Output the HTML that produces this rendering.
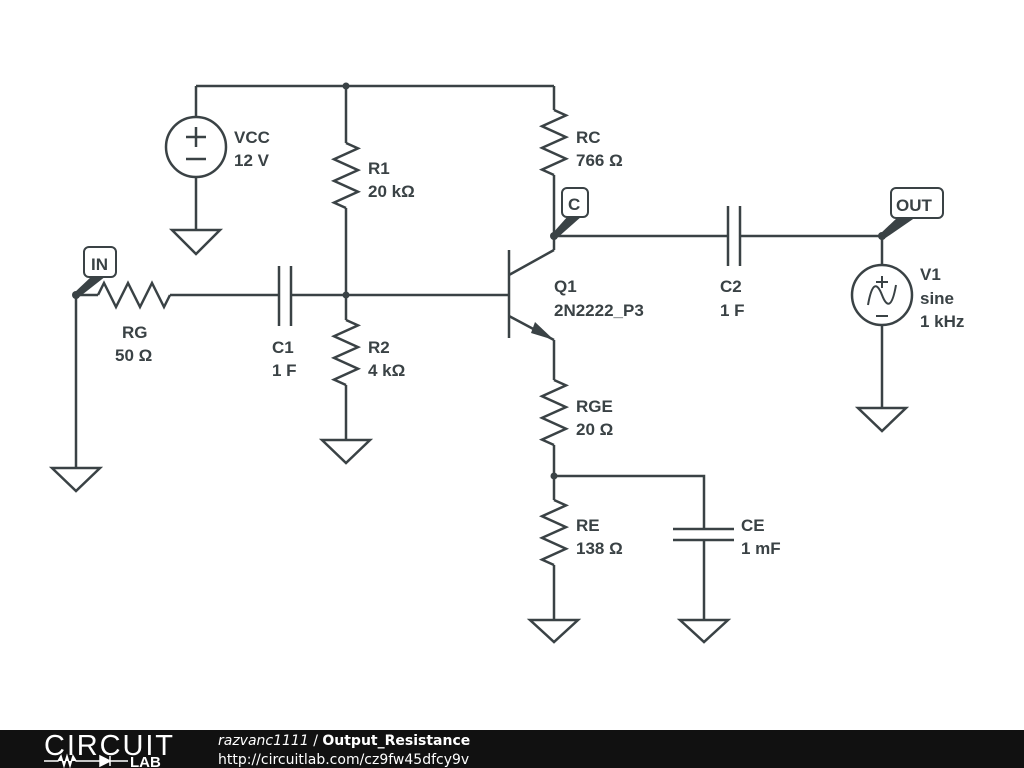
<!DOCTYPE html>
<html><head><meta charset="utf-8"><style>
html,body{margin:0;padding:0;background:#fff;width:1024px;height:768px;overflow:hidden}
svg{display:block}
text{font-family:"Liberation Sans",sans-serif;font-weight:bold;font-size:17px;fill:#3a4245}
</style></head><body>
<svg id="s" width="1024" height="768" viewBox="0 0 1024 768">
<g id="g" stroke="#3a4245" stroke-width="2.5" fill="none" stroke-linecap="butt" stroke-linejoin="miter">
<path d="M196 86H554 M196 86V117 M196 177V230 M346 86V143 M346 208V320 M346 385V440 M554 86V110 M554 175V250 M554 236H728 M740 236H882 M882 236V265 M882 325V408"/>
<path d="M76 295V468 M76 295H98 M170 295H279 M291 295H509"/>
<path d="M509 250V338 M509 275L554 250 M509 316L554 340 M554 340V380 M554 445V500 M554 565V620 M554 476H704V529 M704 540V620"/>
<path d="M279 266V326 M291 266V326 M728 206V266 M740 206V266 M673 529H734 M673 540H734"/>
<circle cx="196" cy="147" r="30"/><path d="M186 137H206 M196 127V147 M186 159H206"/>
<circle cx="882" cy="295" r="30"/><path d="M876 282H888 M882 276V288 M876 316H888" stroke-width="2"/>
<path d="M868 305C872 282 877 282 882 295C887 308 892 308 896 285" stroke-width="2"/>
<path d="M172 230H220L196 254Z M322 440H370L346 463Z M52 468H100L76 491Z M530 620H578L554 642Z M680 620H728L704 642Z M858 408H906L882 431Z"/>
</g>
<polygon points="554,340 535,322 531,333" fill="#3a4245"/>
<g fill="#3a4245">
<circle cx="346" cy="86" r="3.5"/><circle cx="346" cy="295" r="3.5"/><circle cx="554" cy="236" r="4"/><circle cx="882" cy="236" r="4"/><circle cx="76" cy="295" r="4"/><circle cx="554" cy="476" r="3.5"/>
<polygon points="74,293 78,298 106,276 92,276"/>
<polygon points="552,234 556,239 582,216 568,216"/>
<polygon points="880,234 884,239 916,217 898,217"/>
</g>
<g fill="#fff" stroke="#3a4245" stroke-width="2">
<rect x="84" y="247" width="32" height="30" rx="5"/>
<rect x="562" y="188" width="26" height="29" rx="5"/>
<rect x="891" y="188" width="52" height="30" rx="5"/>
</g>
<text x="91" y="270" font-size="16">IN</text>
<text x="568" y="210" font-size="16">C</text>
<text x="896" y="211" font-size="16">OUT</text>
<text x="234" y="143">VCC</text><text x="234" y="166">12 V</text>
<text x="368" y="174">R1</text><text x="368" y="197">20 kΩ</text>
<text x="368" y="353">R2</text><text x="368" y="376">4 kΩ</text>
<text x="576" y="143">RC</text><text x="576" y="166">766 Ω</text>
<text x="554" y="292">Q1</text><text x="554" y="316">2N2222_P3</text>
<text x="720" y="292">C2</text><text x="720" y="316">1 F</text>
<text x="920" y="280">V1</text><text x="920" y="304">sine</text><text x="920" y="327">1 kHz</text>
<text x="122" y="338">RG</text><text x="115" y="361">50 Ω</text>
<text x="272" y="353">C1</text><text x="272" y="376">1 F</text>
<text x="576" y="412">RGE</text><text x="576" y="435">20 Ω</text>
<text x="576" y="531">RE</text><text x="576" y="554">138 Ω</text>
<text x="741" y="531">CE</text><text x="741" y="554">1 mF</text>
<rect x="0" y="730" width="1024" height="38" fill="#111"/>
<text x="44" y="755" style="font-weight:normal;font-size:29px;fill:#fff;letter-spacing:0px" textLength="129">CIRCUIT</text>
<path d="M44 761H58L61 756L64 766L67 756L70 766L73 756L76 761H100 M100 756V766L110 761Z M110 756V766 M110 761H128" stroke="#fff" stroke-width="1.5" fill="#fff"/>
<text x="130" y="767" style="font-size:15px;fill:#fff">LAB</text>
<text x="218" y="745" style="font-family:'DejaVu Sans',sans-serif;font-size:14px;fill:#fff;font-weight:normal"><tspan font-style="italic">razvanc1111</tspan> / <tspan font-weight="bold">Output_Resistance</tspan></text>
<text x="218" y="764" style="font-family:'DejaVu Sans',sans-serif;font-size:14px;fill:#fff;font-weight:normal">http://circuitlab.com/cz9fw45dfcy9v</text>
</svg>
<script>
var g=document.getElementById('g');
function zz(x0,y0,x1,y1){var dx=x1-x0,dy=y1-y0,L=Math.hypot(dx,dy),ux=dx/L,uy=dy/L,nx=-uy,ny=ux,p=[[x0,y0]];
var o=[-1,1,-1,1,-1,1];for(var i=0;i<6;i++){var t=(2*i+1)/12*L;p.push([x0+ux*t+nx*12*o[i],y0+uy*t+ny*12*o[i]]);}p.push([x1,y1]);
var e=document.createElementNS('http://www.w3.org/2000/svg','polyline');e.setAttribute('points',p.map(function(a){return a.join(',')}).join(' '));g.appendChild(e);}
zz(346,143,346,208);zz(346,320,346,385);zz(554,110,554,175);zz(554,380,554,445);zz(554,500,554,565);zz(98,295,170,295);
</script>
</body></html>
